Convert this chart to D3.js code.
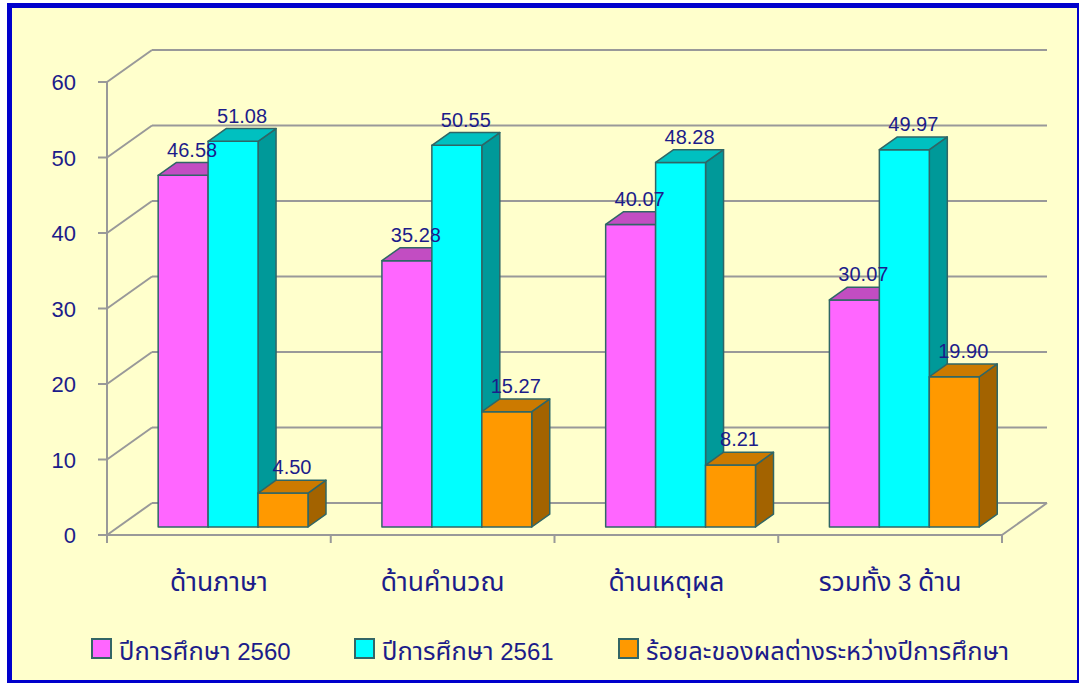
<!DOCTYPE html>
<html>
<head>
<meta charset="utf-8">
<script src="https://cdn.jsdelivr.net/npm/d3@7"></script>
<style>
  body { margin: 0; background: #fff; }
  svg text { font-family: "Liberation Sans", Tahoma, "Noto Sans Thai", sans-serif; fill: #1c1c8a; }
</style>
</head>
<body>
<svg id="chart" width="1081" height="683"></svg>
<script>
const categories = ['ด้านภาษา', 'ด้านคำนวณ', 'ด้านเหตุผล', 'รวมทั้ง 3 ด้าน'];
const seriesNames = ['ปีการศึกษา 2560', 'ปีการศึกษา 2561', 'ร้อยละของผลต่างระหว่างปีการศึกษา'];
const values2560 = [46.58, 35.28, 40.07, 30.07];
const values2561 = [51.08, 50.55, 48.28, 49.97];
const valuesDiff = [4.50, 15.27, 8.21, 19.90];
const yTicks = [0, 10, 20, 30, 40, 50, 60];

const colors = [
  { front: '#ff66ff', top: '#c24dc2', side: '#993399' },
  { front: '#00ffff', top: '#00c0c0', side: '#009999' },
  { front: '#ff9900', top: '#cc7a00', side: '#a36300' }
];

const seriesValues = [values2560, values2561, valuesDiff];

const depthX = 45, depthY = 32;
const barZ0 = 0.25, barZ1 = 0.65;

const svg = d3.select('#chart');

// background + frame (thick top/left, thinner right/bottom)
svg.append('rect').attr('x', 7).attr('y', 3).attr('width', 1072).attr('height', 678)
   .attr('fill', '#ffffcc');
const frame = svg.append('g').attr('fill', '#0000cc');
frame.append('rect').attr('x', 7).attr('y', 3).attr('width', 1072).attr('height', 5);
frame.append('rect').attr('x', 7).attr('y', 3).attr('width', 5).attr('height', 680);
frame.append('rect').attr('x', 1077).attr('y', 3).attr('width', 2).attr('height', 680);
frame.append('rect').attr('x', 7).attr('y', 680).attr('width', 1072).attr('height', 3);

// Thai runs drawn a bit larger than digits, like Tahoma's Thai glyphs
function richText(sel, baseSize, thaiSize) {
  sel.each(function (d) {
    const el = d3.select(this);
    const runs = String(d).match(/[\u0E00-\u0E7F]+|[^\u0E00-\u0E7F]+/g) || [];
    runs.forEach(r => {
      el.append('tspan')
        .attr('font-size', /[\u0E00-\u0E7F]/.test(r) ? thaiSize : baseSize)
        .text(r);
    });
  });
}

const yScale = d3.scaleLinear().domain([0, 60]).range([535, 82]);
const xScale = d3.scaleBand().domain(categories).range([107, 1002]);
const inner = d3.scaleBand().domain(d3.range(3)).range([0, xScale.bandwidth()])
                .paddingInner(0).paddingOuter(0.74).align(0.54);

// project a point at depth z (0 = front, 1 = back)
const px = (x, z) => x + z * depthX;
const py = (y, z) => y - z * depthY;

const grid = svg.append('g').attr('stroke', '#999999').attr('stroke-width', 2).attr('fill', 'none');
const x0 = xScale.range()[0], x1 = xScale.range()[1];

yTicks.forEach(t => {
  const y = yScale(t);
  grid.append('line').attr('x1', px(x0, 1)).attr('y1', py(y, 1))
      .attr('x2', px(x1, 1)).attr('y2', py(y, 1));
  grid.append('line').attr('x1', x0).attr('y1', y).attr('x2', px(x0, 1)).attr('y2', py(y, 1));
  grid.append('line').attr('x1', x0 - 9).attr('y1', y).attr('x2', x0).attr('y2', y);
});
grid.append('line').attr('x1', x0).attr('y1', yScale(0)).attr('x2', x0).attr('y2', yScale(60));
grid.append('line').attr('x1', x0).attr('y1', yScale(0)).attr('x2', x1).attr('y2', yScale(0));
grid.append('line').attr('x1', x1).attr('y1', yScale(0)).attr('x2', px(x1, 1)).attr('y2', py(yScale(0), 1));
categories.concat([null]).forEach(c => {
  const x = c === null ? x1 : xScale(c);
  grid.append('line').attr('x1', x).attr('y1', yScale(0)).attr('x2', x).attr('y2', yScale(0) + 8);
});

// y tick labels
svg.append('g').selectAll('text').data(yTicks).join('text')
   .attr('x', 76).attr('y', d => yScale(d) + 8)
   .attr('text-anchor', 'end').attr('font-size', 22)
   .text(d => d);

// category labels
svg.append('g').selectAll('text').data(categories).join('text')
   .attr('x', d => xScale(d) + xScale.bandwidth() / 2).attr('y', 591)
   .attr('text-anchor', 'middle')
   .call(richText, 24, 26.5);

// bars
const bars = [];
categories.forEach((c, ci) => {
  seriesValues.forEach((vals, si) => {
    bars.push({ c, ci, si, v: vals[ci] });
  });
});

const barG = svg.append('g').attr('stroke', '#2f6666').attr('stroke-width', 1.5).attr('stroke-linejoin', 'round');
const w = inner.bandwidth();
bars.forEach(b => {
  const xl = xScale(b.c) + inner(b.si), xr = xl + w;
  const yb = yScale(0), yt = yScale(b.v);
  const col = colors[b.si];
  const P = (x, y, z) => [px(x, z), py(y, z)];
  const front = [P(xl, yb, barZ0), P(xr, yb, barZ0), P(xr, yt, barZ0), P(xl, yt, barZ0)];
  const top = [P(xl, yt, barZ0), P(xr, yt, barZ0), P(xr, yt, barZ1), P(xl, yt, barZ1)];
  const side = [P(xr, yb, barZ0), P(xr, yb, barZ1), P(xr, yt, barZ1), P(xr, yt, barZ0)];
  barG.append('polygon').attr('points', side.join(' ')).attr('fill', col.side);
  barG.append('polygon').attr('points', front.join(' ')).attr('fill', col.front);
  barG.append('polygon').attr('points', top.join(' ')).attr('fill', col.top);
});

// value labels
svg.append('g').selectAll('text').data(bars).join('text')
   .attr('x', d => px(xScale(d.c) + inner(d.si) + w / 2, (barZ0 + barZ1) / 2))
   .attr('y', d => py(yScale(d.v), barZ1) - 6)
   .attr('text-anchor', 'middle').attr('font-size', 20)
   .text(d => d.v.toFixed(2));

// legend
const legendX = [92, 355, 619];
const lg = svg.append('g').selectAll('g').data(seriesNames).join('g')
   .attr('transform', (d, i) => `translate(${legendX[i]},639)`);
lg.append('rect').attr('width', 19).attr('height', 19)
   .attr('fill', (d, i) => colors[i].front).attr('stroke', '#336666').attr('stroke-width', 2);
lg.append('text').attr('x', 27).attr('y', 21).call(richText, 24, 25.5);
</script>
</body>
</html>
